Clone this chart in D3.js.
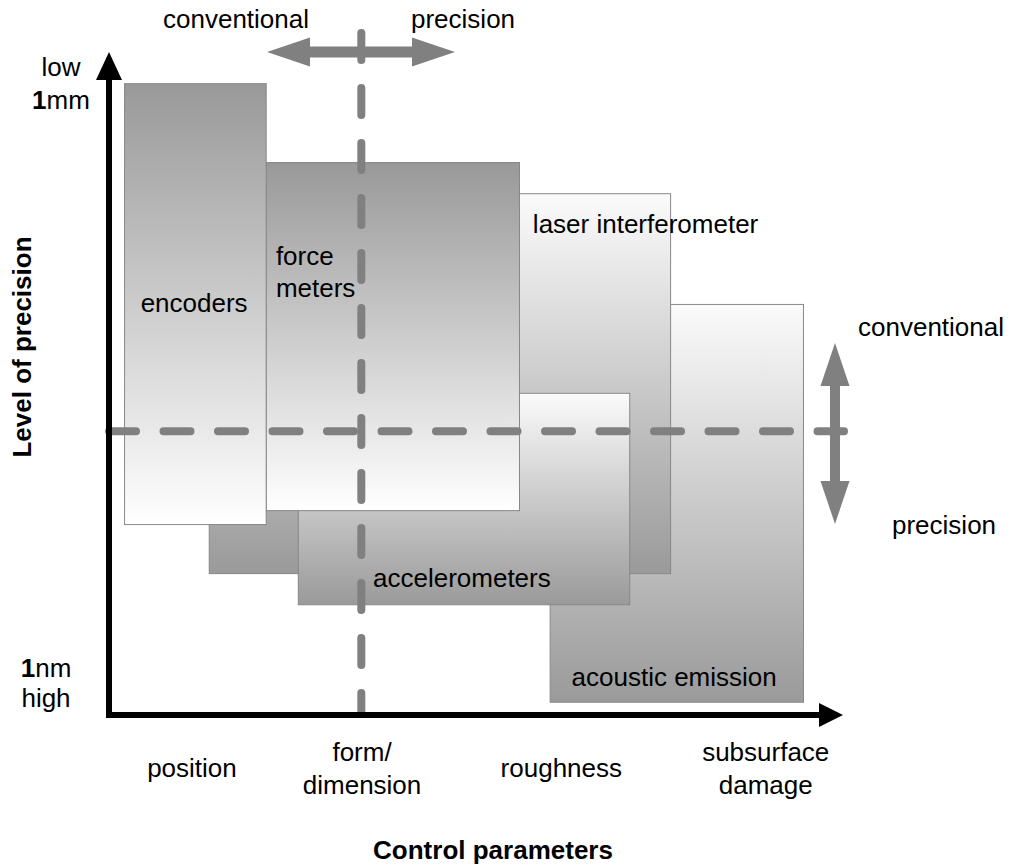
<!DOCTYPE html>
<html>
<head>
<meta charset="utf-8">
<script src="https://cdn.jsdelivr.net/npm/d3@7"></script>
<style>
  body { margin: 0; background: #fff; }
  text { font-family: Arial, "Liberation Sans", sans-serif; font-size: 26px; fill: #000; }
</style>
</head>
<body>
<script>
"use strict";

// sensor boxes, drawn bottom to top; x in control-parameter units (0-100), y in precision units (0-100)
const sensors = ["acoustic emission", "laser interferometer", "accelerometers", "force meters", "encoders"];
const sensorX0 = [60.5, 13.8, 26.0, 21.6, 2.2];
const sensorX1 = [95.2, 77.0, 71.4, 56.3, 21.6];
const sensorY0 = [2.0, 21.4, 16.7, 30.9, 28.8];
const sensorY1 = [62.0, 78.7, 48.6, 83.4, 95.3];
// "down" = dark at top, light at bottom
const sensorShade = ["up", "up", "up", "down", "down"];

// label anchor per sensor (same units)
const labelX = [63.5, 58.2, 36.3, 23.0, 11.8];
const labelY = [4.4, 72.7, 19.3, 67.9, 60.8];
const labelAnchor = ["start", "start", "start", "start", "middle"];

const categories = ["position", "form/\ndimension", "roughness", "subsurface\ndamage"];
const categoryX = [11.5, 34.8, 62.1, 90.1];

const divideX = 34.7;   // conventional | precision
const divideY = 42.8;

const measurements = { width: 1014, height: 865 };

const svg = d3.select("body").append("svg")
  .attr("width", measurements.width)
  .attr("height", measurements.height);

const x = d3.scaleLinear().domain([0, 100]).range([108, 838]);
const y = d3.scaleLinear().domain([0, 100]).range([715, 52]);

const gray = "#808080";
const defs = svg.append("defs");
["up", "down"].forEach(dir => {
  const g = defs.append("linearGradient").attr("id", "shade-" + dir)
    .attr("x1", 0).attr("x2", 0).attr("y1", 0).attr("y2", 1);
  const top = dir === "down" ? "#999999" : "#fbfbfb";
  const bot = dir === "down" ? "#ffffff" : "#9a9a9a";
  g.append("stop").attr("offset", "0%").attr("stop-color", top);
  g.append("stop").attr("offset", "100%").attr("stop-color", bot);
});

const boxes = sensors.map((name, i) => ({
  name, x0: sensorX0[i], x1: sensorX1[i], y0: sensorY0[i], y1: sensorY1[i],
  shade: sensorShade[i], lx: labelX[i], ly: labelY[i], anchor: labelAnchor[i]
}));

svg.append("g").selectAll("rect")
  .data(boxes)
  .enter()
  .append("rect")
  .attr("x", d => x(d.x0) + 0.5)
  .attr("y", d => y(d.y1) + 0.5)
  .attr("width", d => x(d.x1) - x(d.x0))
  .attr("height", d => y(d.y0) - y(d.y1))
  .attr("fill", d => "url(#shade-" + d.shade + ")")
  .attr("stroke", "#888")
  .attr("stroke-width", 1);

// sensor labels
boxes.forEach(d => {
  const t = svg.append("text")
    .attr("x", x(d.lx)).attr("y", y(d.ly))
    .attr("text-anchor", d.anchor);
  if (d.name === "force meters") {
    t.append("tspan").attr("x", x(d.lx)).text("force");
    t.append("tspan").attr("x", x(d.lx)).attr("dy", 32).text("meters");
  } else {
    t.text(d.name);
  }
});

// dashed divider lines
svg.append("line")
  .attr("x1", x(divideX)).attr("x2", x(divideX))
  .attr("y1", 33).attr("y2", 714)
  .attr("stroke", gray).attr("stroke-width", 8)
  .attr("stroke-linecap", "round").attr("stroke-dasharray", "27,28");

svg.append("line")
  .attr("x1", 109).attr("x2", 844)
  .attr("y1", y(divideY)).attr("y2", y(divideY))
  .attr("stroke", gray).attr("stroke-width", 8)
  .attr("stroke-linecap", "round").attr("stroke-dasharray", "27,27.5");

// double arrows
function doubleArrow(x1, y1, x2, y2, head, half, shaft) {
  const len = Math.hypot(x2 - x1, y2 - y1);
  const ang = Math.atan2(y2 - y1, x2 - x1) * 180 / Math.PI;
  const g = svg.append("g").attr("transform", `translate(${x1},${y1}) rotate(${ang})`);
  g.append("rect").attr("x", head - 1).attr("y", -shaft / 2)
    .attr("width", len - 2 * head + 2).attr("height", shaft).attr("fill", gray);
  g.append("path").attr("d", `M0,0L${head},${-half}L${head},${half}Z`).attr("fill", gray);
  g.append("path").attr("d", `M${len},0L${len - head},${-half}L${len - head},${half}Z`).attr("fill", gray);
}
doubleArrow(267, 52, 455, 52, 43, 14.5, 11);
doubleArrow(835, 343, 835, 524, 43, 14.5, 10);

// axes
svg.append("line").attr("x1", 109).attr("x2", 109).attr("y1", 718).attr("y2", 76)
  .attr("stroke", "#000").attr("stroke-width", 6);
svg.append("path").attr("d", "M109,52L96,80L122,80Z").attr("fill", "#000");
svg.append("line").attr("x1", 106).attr("x2", 822).attr("y1", 715).attr("y2", 715)
  .attr("stroke", "#000").attr("stroke-width", 6);
svg.append("path").attr("d", "M843,715L819,703L819,727Z").attr("fill", "#000");

// y-axis end labels
function twoLine(cx, ys, parts) {
  parts.forEach((p, i) => {
    const t = svg.append("text").attr("x", cx).attr("y", ys[i]).attr("text-anchor", "middle");
    t.append("tspan").attr("font-weight", p[0] === "1" ? "bold" : null).text(p[0]);
    t.append("tspan").text(p[1]);
  });
}
twoLine(61, [76, 109], [["low", ""], ["1", "mm"]]);
twoLine(46, [677, 707], [["1", "nm"], ["high", ""]]);

// category labels
categories.forEach((c, i) => {
  const lines = c.split("\n");
  const base = lines.length === 1 ? 777 : 761;
  const t = svg.append("text").attr("text-anchor", "middle");
  lines.forEach((l, j) => {
    t.append("tspan").attr("x", x(categoryX[i])).attr("y", base + j * 33).text(l);
  });
});

// arrow captions
svg.append("text").attr("x", 163).attr("y", 28).text("conventional");
svg.append("text").attr("x", 411).attr("y", 28).text("precision");
svg.append("text").attr("x", 858).attr("y", 336).text("conventional");
svg.append("text").attr("x", 892).attr("y", 534).text("precision");

// axis titles
svg.append("text").attr("x", 493).attr("y", 859).attr("text-anchor", "middle")
  .attr("font-weight", "bold").text("Control parameters");
svg.append("text").attr("transform", "translate(31,347) rotate(-90)")
  .attr("text-anchor", "middle").attr("font-weight", "bold").text("Level of precision");
</script>
</body>
</html>
